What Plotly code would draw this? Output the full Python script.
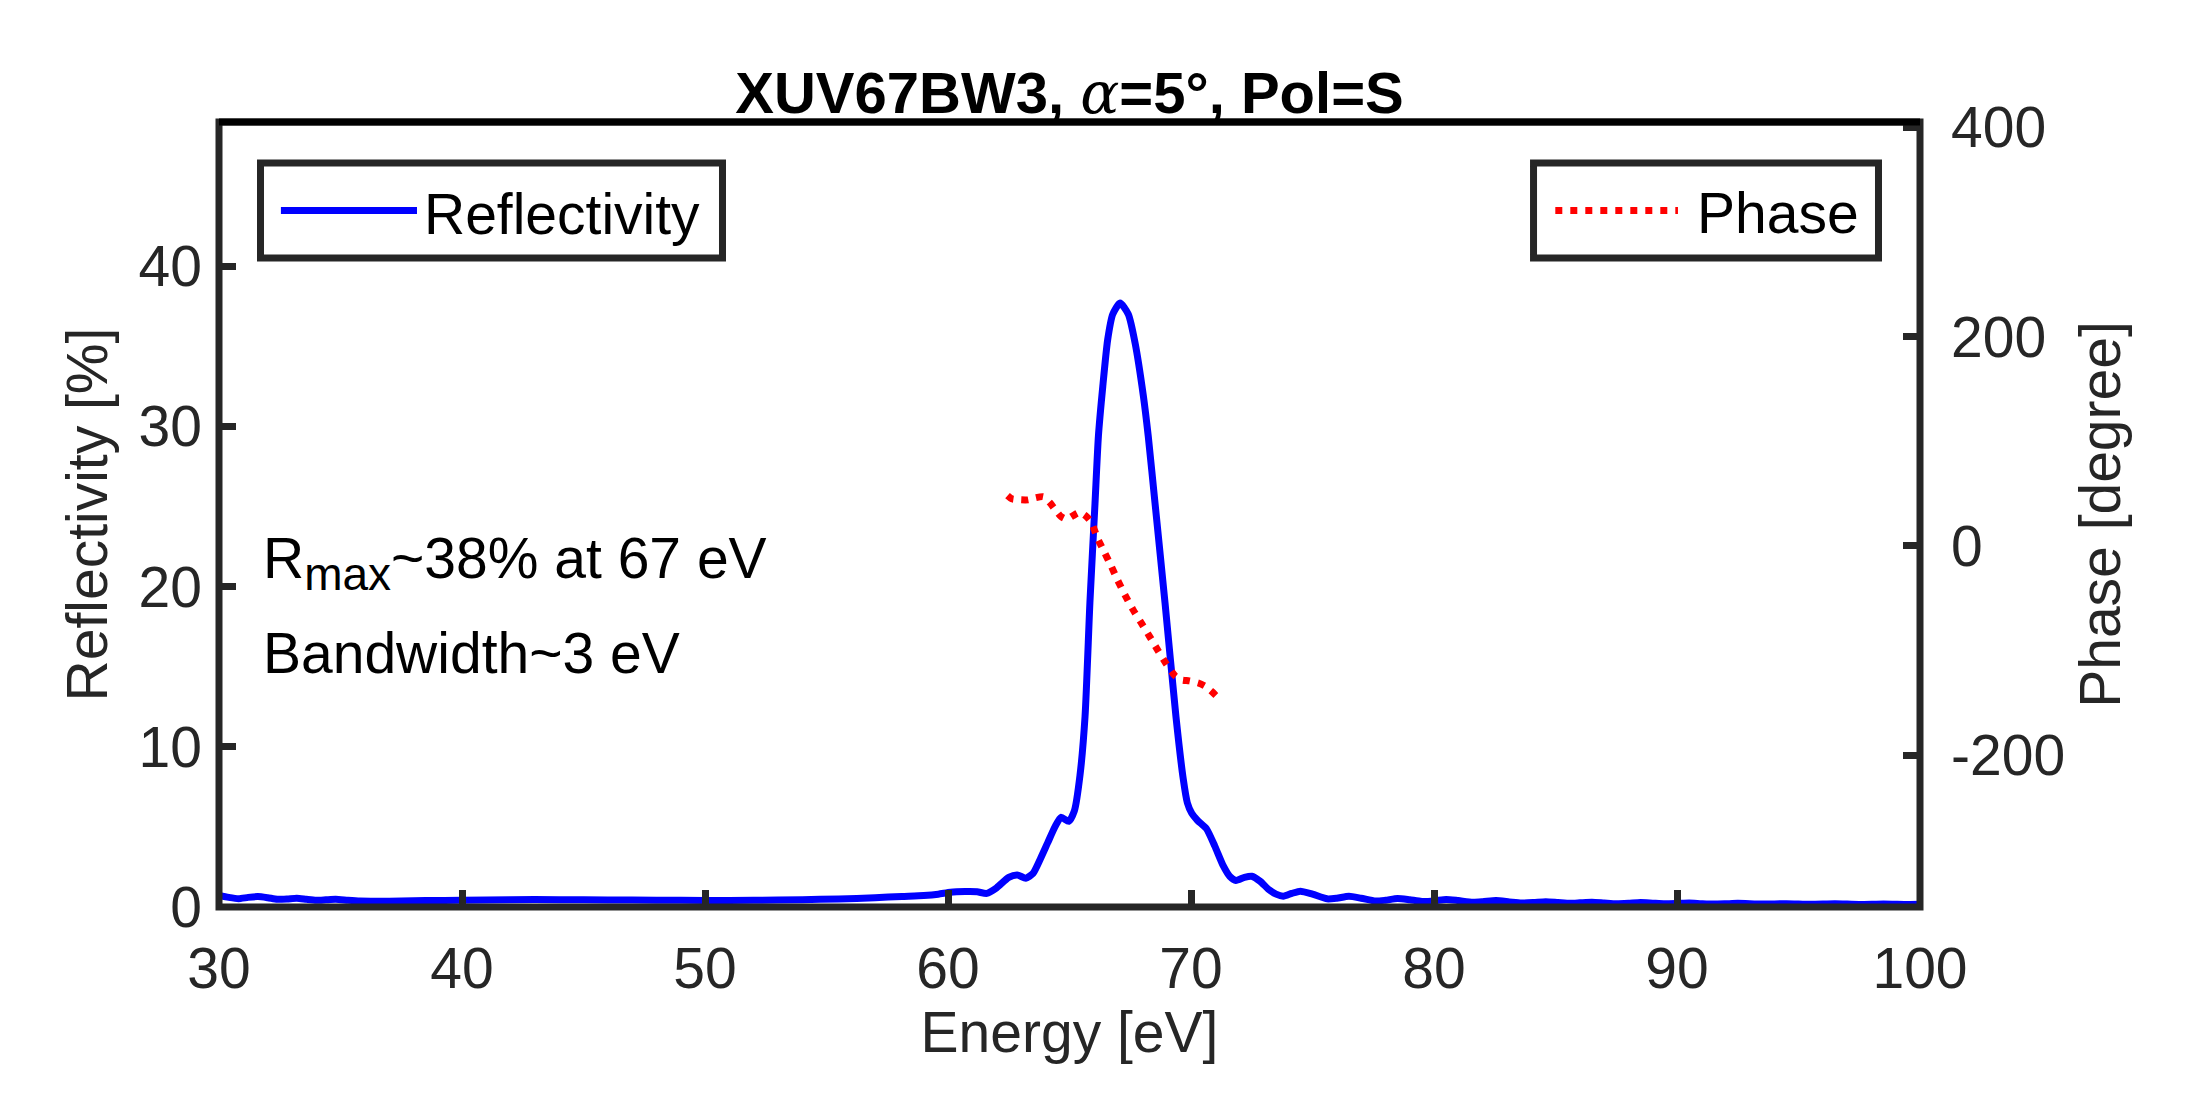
import plotly.graph_objects as go

# ---------------- data ----------------
energy_R = [30.0, 30.4, 30.8, 31.2, 31.6, 32.0, 32.4, 32.8, 33.2, 33.6, 34.0, 34.4, 34.8, 35.3, 35.8,
            36.5, 37.5, 38.5, 40.0, 42.0, 44.0, 46.0, 48.0, 50.0, 52.0, 54.0, 55.5, 57.0, 58.1, 59.0,
            59.6, 60.1, 60.7, 61.2, 61.6, 62.0, 62.5, 62.85, 63.2, 63.5, 63.8, 64.1, 64.4, 64.65, 64.97,
            65.2, 65.43, 65.64, 65.84, 66.05, 66.19, 66.37, 66.57, 66.78, 67.08, 67.42, 67.70, 68.04,
            68.24, 68.52, 68.93, 69.38, 69.68, 69.85, 70.03, 70.27, 70.63, 70.98, 71.33, 71.6, 71.85,
            72.2, 72.5, 72.85, 73.2, 73.5, 73.8, 74.15, 74.5, 75.0, 75.6, 76.0, 76.5, 77.0, 77.6, 78.0,
            78.5, 79.0, 79.5, 80.0, 80.5, 81.0, 81.6, 82.0, 82.55, 83.1, 83.6, 84.1, 84.6, 85.1, 85.6,
            86.0, 86.5, 87.0, 87.5, 88.0, 88.5, 89.0, 89.5, 90.0, 90.5, 91.0, 91.5, 92.0, 92.5, 93.5,
            94.5, 95.5, 96.5, 97.5, 98.5, 99.5, 100.0]
reflectivity = [0.72, 0.6, 0.52, 0.6, 0.65, 0.58, 0.48, 0.5, 0.55, 0.48, 0.42, 0.45, 0.48, 0.42, 0.37,
                0.36, 0.37, 0.4, 0.42, 0.46, 0.46, 0.44, 0.42, 0.41, 0.42, 0.46, 0.5, 0.58, 0.66, 0.72,
                0.8, 0.92, 0.96, 0.95, 0.85, 1.2, 1.85, 2.0, 1.8, 2.1, 3.0, 4.0, 5.0, 5.6, 5.35,
                6.0, 8.2, 11.9, 19.0, 25.2, 29.4, 32.5, 35.4, 37.0, 37.7, 37.0, 35.2, 31.9,
                29.4, 25.2, 19.0, 11.9, 8.0, 6.5, 5.85, 5.4, 4.9, 3.8, 2.56, 1.9, 1.66,
                1.85, 1.92, 1.6, 1.09, 0.8, 0.67, 0.85, 0.99, 0.8, 0.51, 0.55, 0.67, 0.55, 0.37, 0.42,
                0.53, 0.45, 0.35, 0.38, 0.47, 0.4, 0.3, 0.33, 0.4, 0.32, 0.25, 0.28, 0.33, 0.28, 0.23,
                0.26, 0.3, 0.25, 0.2, 0.23, 0.28, 0.24, 0.2, 0.22, 0.25, 0.21, 0.18, 0.2, 0.23, 0.18,
                0.21, 0.17, 0.2, 0.16, 0.19, 0.16, 0.17]

energy_phase = [62.45, 62.62, 63.0, 63.3, 63.6, 63.92, 64.2, 64.4, 64.65, 64.88, 65.15, 65.43, 65.7,
                65.91, 66.14, 66.42, 66.71, 66.98, 67.28, 67.60, 67.94, 68.28, 68.63, 68.97, 69.34,
                69.6, 69.93, 70.3, 70.58, 70.85, 71.06, 71.2]
phase = [48, 45, 44, 44, 46, 47, 41, 35, 28, 25.6, 29, 32, 28,
         22, 8, -5.3, -19, -32.7, -46.7, -60.4, -73.1, -85.9, -99.6, -112.3, -124.1,
         -128, -129, -131, -134, -139, -143.8, -147]

x_ticks = [30, 40, 50, 60, 70, 80, 90, 100]
y_ticks = [0, 10, 20, 30, 40]
y2_ticks = [-200, 0, 200, 400]
y2_ticklabels = ["-200", "0", "200", "400"]

FONT = "Liberation Sans, Arial, Helvetica, sans-serif"
AX = "#262626"

fig = go.Figure()
fig.add_trace(go.Scatter(x=energy_R, y=reflectivity, mode="lines", name="Reflectivity",
                         line=dict(color="#0000FF", width=7, shape="spline", smoothing=0.6),
                         showlegend=False, yaxis="y"))
fig.add_trace(go.Scatter(x=energy_phase, y=phase, mode="lines", name="Phase",
                         line=dict(color="#FF0000", width=7, dash="7px,8px", shape="spline", smoothing=0.6),
                         showlegend=False, yaxis="y2"))

axis_common = dict(showgrid=False, zeroline=False, showline=False, ticks="inside",
                   ticklen=17, tickwidth=7, tickcolor=AX,
                   tickfont=dict(family=FONT, size=57, color=AX))

fig.update_layout(
    width=2187, height=1094,
    margin=dict(l=211, r=275, t=114, b=195, autoexpand=False),
    paper_bgcolor="white", plot_bgcolor="white",
    xaxis=dict(range=[30, 100], tickvals=x_ticks, ticklabelstandoff=23,
               title=dict(text="Energy [eV]", font=dict(family=FONT, size=57, color=AX), standoff=0),
               **axis_common),
    yaxis=dict(range=[0, 49], tickvals=y_ticks, ticklabelstandoff=16,
               title=dict(text="Reflectivity [%]", font=dict(family=FONT, size=57, color=AX), standoff=12),
               **axis_common),
    yaxis2=dict(range=[-345, 405], tickvals=y2_ticks, ticktext=y2_ticklabels,
                overlaying="y", side="right", anchor="x", ticklabelstandoff=30,
                title=dict(text="Phase [degree]", font=dict(family=FONT, size=57, color=AX), standoff=16),
                **axis_common),
    title=dict(text="<b>XUV67BW3, </b><span style=\"font-family:DejaVu Serif;font-style:italic\">α</span><b>=5°, Pol=S</b>",
               x=0.5, xref="paper", xanchor="center", y=0.923, yref="container", yanchor="middle",
               font=dict(family=FONT, size=58, color="black")),
    showlegend=False,
)

# axis box (MATLAB style): dark grey left/bottom/right, black top
fig.add_shape(type="rect", xref="paper", yref="paper", x0=0, x1=1, y0=0, y1=1,
              line=dict(color=AX, width=7), fillcolor="rgba(0,0,0,0)", layer="above")
fig.add_shape(type="line", xref="paper", yref="paper", x0=0, x1=1, y0=1, y1=1,
              line=dict(color="black", width=7), layer="above")

# legend boxes (two separate MATLAB legends)
for (x0, x1) in [(0.0244, 0.2960), (0.7728, 0.9756)]:
    fig.add_shape(type="rect", xref="paper", yref="paper", x0=x0, x1=x1, y0=0.8268, y1=0.9478,
                  line=dict(color=AX, width=7), fillcolor="white", layer="above")
fig.add_shape(type="line", xref="paper", yref="paper", x0=0.0364, x1=0.1164, y0=0.8873, y1=0.8873,
              line=dict(color="#0000FF", width=7), layer="above")
fig.add_shape(type="line", xref="paper", yref="paper", x0=0.7856, x1=0.8577, y0=0.8873, y1=0.8873,
              line=dict(color="#FF0000", width=7, dash="7px,8px"), layer="above")
fig.add_annotation(text="Reflectivity", xref="paper", yref="paper", x=0.1195, y=0.8822,
                   xanchor="left", yanchor="middle", showarrow=False,
                   font=dict(family=FONT, size=57, color="black"))
fig.add_annotation(text="Phase", xref="paper", yref="paper", x=0.868, y=0.8847,
                   xanchor="left", yanchor="middle", showarrow=False,
                   font=dict(family=FONT, size=57, color="black"))

# text annotations
fig.add_annotation(text="R<sub><span style=\"font-size:46px;color:black\">max</span></sub>~38% at 67 eV",
                   xref="paper", yref="paper", x=0.0245, y=0.4376,
                   xanchor="left", yanchor="middle", showarrow=False,
                   font=dict(family=FONT, size=57, color="black"))
fig.add_annotation(text="Bandwidth~3 eV", xref="paper", yref="paper", x=0.0245, y=0.324,
                   xanchor="left", yanchor="middle", showarrow=False,
                   font=dict(family=FONT, size=57, color="black"))

fig.write_html("out.html")
